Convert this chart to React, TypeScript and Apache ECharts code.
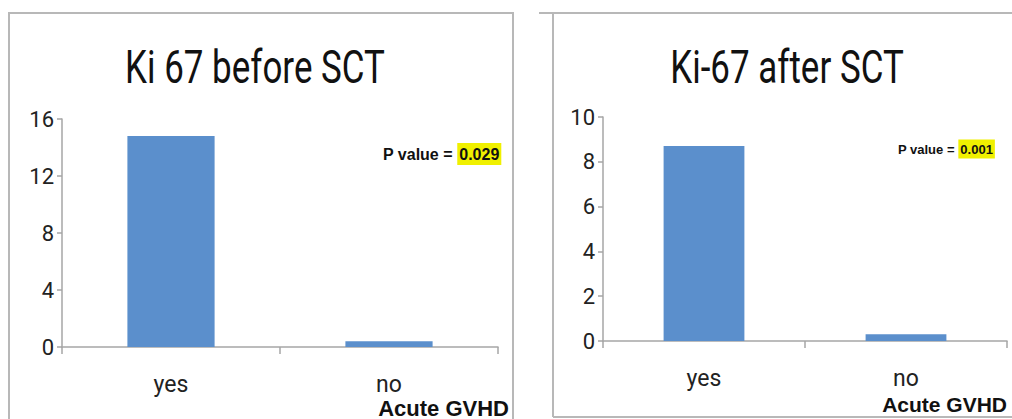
import React, { useEffect, useRef } from "react";
import * as echarts from "echarts";

const categories = ["yes", "no"];
const beforeValues = [14.8, 0.4];
const afterValues = [8.7, 0.3];
const beforeTicks = { min: 0, max: 16, interval: 4 };
const afterTicks = { min: 0, max: 10, interval: 2 };
const titles = ["Ki 67 before SCT", "Ki-67 after SCT"];
const pValues = ["0.029", "0.001"];
const xAxisName = "Acute GVHD";

const TFONT = "Roboto, 'Liberation Sans', Arial, sans-serif";
const BFONT = "'Liberation Sans', Arial, sans-serif";
const AXIS = "#a6a6a6";
const BAR = "#5b8fcc";

export default function App() {
  const ref = useRef<HTMLDivElement>(null);
  useEffect(() => {
    const chart = echarts.init(ref.current!, undefined, { renderer: "svg" });
    const axisCommon = {
      axisLine: { show: true, lineStyle: { color: AXIS, width: 1.5 } },
      splitLine: { show: false },
    };
    const yAxis = (t: any, idx: number) => ({
      type: "value",
      gridIndex: idx,
      min: t.min,
      max: t.max,
      interval: t.interval,
      ...axisCommon,
      axisTick: { show: true, length: 5, lineStyle: { color: AXIS, width: 1.5 } },
      axisLabel: { fontFamily: TFONT, fontSize: 22, color: "#222", margin: 8 },
    });
    const xAxis = (idx: number) => ({
      type: "category",
      gridIndex: idx,
      data: categories,
      ...axisCommon,
      axisTick: { show: true, length: 7, alignWithLabel: false, lineStyle: { color: AXIS, width: 1.5 } },
      axisLabel: { fontFamily: TFONT, fontSize: 23, color: "#222", margin: 26 },
    });
    const pText = (x: number, y: number, size: number, p: string) => ({
      type: "text",
      x,
      y,
      style: {
        text: `{a|P value = }{b|${p}}`,
        verticalAlign: "middle",
        rich: {
          a: { fontFamily: BFONT, fontWeight: "bold", fontSize: size, fill: "#111" },
          b: {
            fontFamily: BFONT,
            fontWeight: "bold",
            fontSize: size,
            fill: "#111",
            backgroundColor: "#f0f000",
            padding: [3, 2, 3, 2],
          },
        },
      },
    });
    const titleText = (x: number, text: string) => ({
      type: "text",
      x,
      y: 67,
      scaleX: 0.76,
      style: {
        text,
        fontFamily: TFONT,
        fontSize: 46,
        fill: "#111",
        align: "center",
        verticalAlign: "middle",
      },
    });
    chart.setOption({
      animation: false,
      backgroundColor: "#fff",
      grid: [
        { left: 62, top: 119, width: 436, height: 228 },
        { left: 603, top: 117, width: 404, height: 224 },
      ],
      xAxis: [xAxis(0), xAxis(1)],
      yAxis: [yAxis(beforeTicks, 0), yAxis(afterTicks, 1)],
      series: [
        {
          type: "bar",
          xAxisIndex: 0,
          yAxisIndex: 0,
          data: beforeValues,
          barWidth: "40%",
          itemStyle: { color: BAR },
        },
        {
          type: "bar",
          xAxisIndex: 1,
          yAxisIndex: 1,
          data: afterValues,
          barWidth: "40%",
          itemStyle: { color: BAR },
        },
      ],
      graphic: [
        { type: "rect", shape: { x: 9, y: 13, width: 504, height: 430 }, style: { fill: "none", stroke: "#b8b8b8", lineWidth: 2 } },
        { type: "line", shape: { x1: 539, y1: 13, x2: 1012, y2: 13 }, style: { stroke: "#b8b8b8", lineWidth: 2 } },
        { type: "line", shape: { x1: 553, y1: 13, x2: 553, y2: 417 }, style: { stroke: "#b8b8b8", lineWidth: 2 } },
        { type: "line", shape: { x1: 553, y1: 417, x2: 1012, y2: 417 }, style: { stroke: "#b8b8b8", lineWidth: 2 } },
        titleText(255, titles[0]),
        titleText(787, titles[1]),
        pText(383, 154, 16, pValues[0]),
        pText(898, 149, 13, pValues[1]),
        {
          type: "text",
          x: 509,
          y: 408,
          style: { text: xAxisName, fontFamily: BFONT, fontWeight: "bold", fontSize: 22, fill: "#111", align: "right", verticalAlign: "middle" },
        },
        {
          type: "text",
          x: 1007,
          y: 404,
          style: { text: xAxisName, fontFamily: BFONT, fontWeight: "bold", fontSize: 21, fill: "#111", align: "right", verticalAlign: "middle" },
        },
      ],
    });
    return () => chart.dispose();
  }, []);
  return (
    <div
      ref={ref}
      style={{ position: "fixed", left: 0, top: 0, width: 1012, height: 419 }}
    />
  );
}
